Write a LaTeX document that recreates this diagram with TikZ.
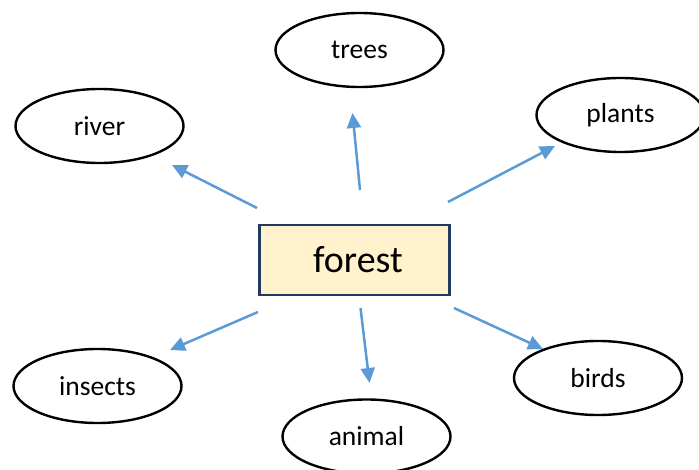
\documentclass[tikz,border=0pt]{standalone}
\usepackage{fontspec}
\setmainfont{Carlito}
\usetikzlibrary{shapes.geometric,arrows.meta}
\definecolor{arrowblue}{HTML}{5B9BD5}
\definecolor{boxfill}{HTML}{FFF2CC}
\definecolor{boxline}{HTML}{223A5E}
\tikzset{
  topic/.style={ellipse,draw=black,line width=2.4pt,fill=white,minimum width=168pt,minimum height=74pt,inner sep=0pt,font=\fontsize{27.5}{32}\selectfont},
  centerbox/.style={rectangle,draw=boxline,line width=2.5pt,fill=boxfill,minimum width=190pt,minimum height=70pt,inner sep=0pt,font=\fontsize{38}{44}\selectfont},
  link/.style={draw=arrowblue,line width=2.5pt,-{Triangle[length=15pt,width=14pt]}}
}
\begin{document}
\begin{tikzpicture}[x=1pt,y=-1pt]
\useasboundingbox (0,0) rectangle (699,470);
\node[centerbox] (forest) at (354.5,260) {\hspace*{7pt}forest};
\node[topic] (trees) at (359.5,50) {trees};
\node[topic] (river) at (99.5,126) {river};
\node[topic] (plants) at (620.5,115) {plants};
\node[topic] (insects) at (97.5,386) {insects};
\node[topic] (animal) at (366.5,436.5) {animal};
\node[topic] (birds) at (598,378) {birds};
% arrow ends
\coordinate (tTrees) at (360,190);   \coordinate (hTrees) at (352.5,113);
\coordinate (tRiver) at (257,208);   \coordinate (hRiver) at (172,165);
\coordinate (tPlants) at (448,202);  \coordinate (hPlants) at (555,146);
\coordinate (tInsects) at (258,312); \coordinate (hInsects) at (170,350);
\coordinate (tAnimal) at (360.5,308);\coordinate (hAnimal) at (369.5,383);
\coordinate (tBirds) at (454,308);   \coordinate (hBirds) at (543,349);
\draw[link] (tTrees) -- (hTrees);
\draw[link] (tRiver) -- (hRiver);
\draw[link] (tPlants) -- (hPlants);
\draw[link] (tInsects) -- (hInsects);
\draw[link] (tAnimal) -- (hAnimal);
\draw[link] (tBirds) -- (hBirds);
\end{tikzpicture}
\end{document}
